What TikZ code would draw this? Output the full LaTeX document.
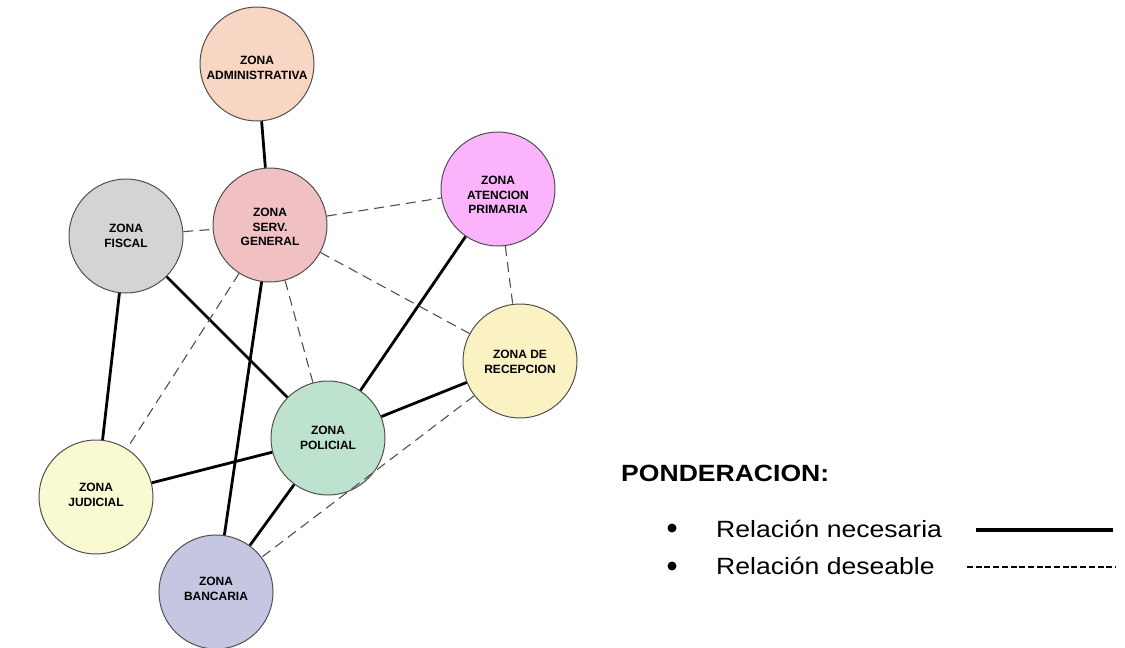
\documentclass[tikz,border=0pt]{standalone}
\usepackage{fontspec}
\setmainfont{Liberation Sans}
\definecolor{cAdm}{HTML}{F9D5C3}
\definecolor{cSrv}{HTML}{F0C0C3}
\definecolor{cFis}{HTML}{D4D4D4}
\definecolor{cAte}{HTML}{FBB3FB}
\definecolor{cRec}{HTML}{FBF2C4}
\definecolor{cPol}{HTML}{BDE3CF}
\definecolor{cJud}{HTML}{FAFAD2}
\definecolor{cBan}{HTML}{C4C6E2}
\definecolor{cBorder}{HTML}{505050}
\definecolor{cDash}{HTML}{505050}
\begin{document}
\begin{tikzpicture}[x=1pt,y=-1pt,
  zone/.style={circle,draw=cBorder,line width=1pt,minimum size=114pt,inner sep=0pt},
  lbl/.style={align=center,font=\fontsize{12}{14.3}\selectfont\bfseries,inner sep=0pt},
  nec/.style={line width=2.8pt,black},
  des/.style={line width=1.1pt,cDash,dash pattern=on 10pt off 6pt},
  legtxt/.style={anchor=base west,inner sep=0pt,font=\fontsize{23.5}{26}\selectfont}
]
\useasboundingbox (0,0) rectangle (1125,648);
\coordinate (pAdm) at (257,64);
\coordinate (pSrv) at (270,225);
\coordinate (pFis) at (126,236);
\coordinate (pAte) at (498,189);
\coordinate (pRec) at (520,361);
\coordinate (pPol) at (328,438);
\coordinate (pJud) at (96,497);
\coordinate (pBan) at (216,592);

\node[zone,fill=cAdm] (adm) at (pAdm) {};
\node[zone,fill=cSrv] (srv) at (pSrv) {};
\node[zone,fill=cFis] (fis) at (pFis) {};
\node[zone,fill=cAte] (ate) at (pAte) {};
\node[zone,fill=cRec] (rec) at (pRec) {};
\node[zone,fill=cPol] (pol) at (pPol) {};
\node[zone,fill=cJud] (jud) at (pJud) {};
\node[zone,fill=cBan] (ban) at (pBan) {};

% necessary relations
\draw[nec] (adm) -- (srv);
\draw[nec] (fis) -- (pol);
\draw[nec] (fis) -- (jud);
\draw[nec] (srv) -- (ban);
\draw[nec] (ate) -- (pol);
\draw[nec] (rec) -- (pol);
\draw[nec] (pol) -- (jud);
\draw[nec] (pol) -- (ban);
% desirable relations
\draw[des] (fis) -- (srv);
\draw[des] (srv) -- (ate);
\draw[des] (srv) -- (rec);
\draw[des] (srv) -- (pol);
\draw[des] (srv) -- (jud);
\draw[des] (ate) -- (rec);
\draw[des] (rec) -- (ban);

% labels
\node[lbl] (tAdm) at ([yshift=-4pt]adm.center) {ZONA\\ADMINISTRATIVA};
\node[lbl] (tSrv) at ([yshift=-2pt]srv.center) {ZONA\\SERV.\\GENERAL};
\node[lbl] (tFis) at (fis.center) {ZONA\\FISCAL};
\node[lbl] (tAte) at ([yshift=-6pt]ate.center) {ZONA\\ATENCION\\PRIMARIA};
\node[lbl] (tRec) at ([yshift=-1pt]rec.center) {ZONA DE\\RECEPCION};
\node[lbl] (tPol) at (pol.center) {ZONA\\POLICIAL};
\node[lbl] (tJud) at ([yshift=2pt]jud.center) {ZONA\\JUDICIAL};
\node[lbl] (tBan) at ([yshift=3pt]ban.center) {ZONA\\BANCARIA};

% legend
\node[legtxt,font=\fontsize{23.5}{26}\selectfont\bfseries] (legT) at (621,481) {\scalebox{1.13}[1]{PONDERACION:}};
\fill (672,528) circle (4.5pt) coordinate (b1);
\fill (672,566) circle (4.5pt) coordinate (b2);
\node[legtxt] (leg1) at (716,537) {\scalebox{1.13}[1]{Relación necesaria}};
\node[legtxt] (leg2) at (716,574) {\scalebox{1.13}[1]{Relación deseable}};
\coordinate (s1a) at (976,530);
\coordinate (s1b) at (1113,530);
\coordinate (s2a) at (967,567);
\coordinate (s2b) at (1115,567);
\draw[line width=3.5pt] (s1a) -- (s1b);
\draw[line width=1.6pt,dash pattern=on 6pt off 2.7pt] (s2a) -- (s2b);
\end{tikzpicture}
\end{document}
